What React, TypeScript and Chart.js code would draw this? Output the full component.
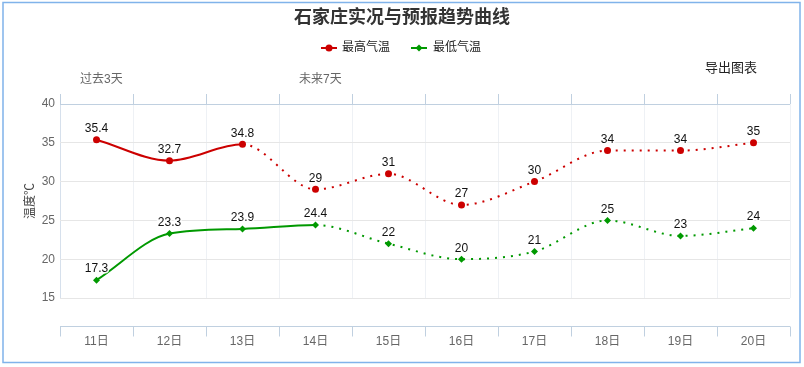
import React, { useEffect, useRef } from "react";
import { Chart, registerables } from "chart.js";

Chart.register(...registerables);

const days = ["11日", "12日", "13日", "14日", "15日", "16日", "17日", "18日", "19日", "20日"];
const highTemps = [35.4, 32.7, 34.8, 29, 31, 27, 30, 34, 34, 35];
const lowTemps = [17.3, 23.3, 23.9, 24.4, 22, 20, 21, 25, 23, 24];
const highObservedCount = 3; // solid up to index 2
const lowObservedCount = 4; // solid up to index 3
const yTicks = [15, 20, 25, 30, 35, 40];

const titleText = "石家庄实况与预报趋势曲线";
const highName = "最高气温";
const lowName = "最低气温";
const pastLabel = "过去3天";
const futureLabel = "未来7天";
const exportLabel = "导出图表";
const yTitle = "温度℃";

const FONT = "'Liberation Sans', 'Noto Sans CJK SC', sans-serif";
const RED = "#cc0000";
const GREEN = "#009900";
const AXIS_BLUE = "#c0d0e0";

const decorPlugin = {
  id: "decor",
  beforeDraw(chart: any) {
    const ctx = chart.ctx;
    ctx.save();
    ctx.fillStyle = "#ffffff";
    ctx.fillRect(0, 0, chart.width, chart.height);
    ctx.restore();
  },
  afterDraw(chart: any) {
    const ctx = chart.ctx;
    const area = chart.chartArea;
    const n = days.length;
    const w = (area.right - area.left) / n;
    ctx.save();
    // outer border
    ctx.strokeStyle = "#80b3ea";
    ctx.lineWidth = 1.5;
    ctx.strokeRect(3, 2.5, 797, 360);

    // top axis ticks
    ctx.strokeStyle = AXIS_BLUE;
    ctx.lineWidth = 1;
    for (let i = 0; i <= n; i++) {
      const px = Math.round(area.left + i * w) + 0.5;
      ctx.beginPath();
      ctx.moveTo(px, area.top - 10);
      ctx.lineTo(px, area.top);
      ctx.stroke();
    }
    // bottom axis line + ticks
    const by = area.bottom + 28.5;
    ctx.beginPath();
    ctx.moveTo(area.left, by);
    ctx.lineTo(area.right, by);
    ctx.stroke();
    for (let i = 0; i <= n; i++) {
      const px = Math.round(area.left + i * w) + 0.5;
      ctx.beginPath();
      ctx.moveTo(px, by);
      ctx.lineTo(px, by + 10);
      ctx.stroke();
    }

    // title
    ctx.fillStyle = "#333333";
    ctx.font = `bold 18px ${FONT}`;
    ctx.textAlign = "center";
    ctx.textBaseline = "middle";
    ctx.fillText(titleText, 402, 18);

    // legend
    ctx.font = `12px ${FONT}`;
    ctx.textAlign = "left";
    const ly = 48;
    ctx.lineWidth = 2;
    ctx.strokeStyle = RED;
    ctx.beginPath();
    ctx.moveTo(321, ly);
    ctx.lineTo(337, ly);
    ctx.stroke();
    ctx.fillStyle = RED;
    ctx.beginPath();
    ctx.arc(329, ly, 3.5, 0, Math.PI * 2);
    ctx.fill();
    ctx.fillStyle = "#222222";
    ctx.fillText(highName, 342, ly);

    ctx.strokeStyle = GREEN;
    ctx.beginPath();
    ctx.moveTo(411, ly);
    ctx.lineTo(427, ly);
    ctx.stroke();
    ctx.fillStyle = GREEN;
    ctx.beginPath();
    ctx.moveTo(419, ly - 3.5);
    ctx.lineTo(422.5, ly);
    ctx.lineTo(419, ly + 3.5);
    ctx.lineTo(415.5, ly);
    ctx.closePath();
    ctx.fill();
    ctx.fillStyle = "#222222";
    ctx.fillText(lowName, 433, ly);

    // export button text
    ctx.font = `13px ${FONT}`;
    ctx.fillStyle = "#222222";
    ctx.fillText(exportLabel, 705, 68);

    // period labels
    ctx.font = `12px ${FONT}`;
    ctx.fillStyle = "#666666";
    ctx.fillText(pastLabel, 80, 80);
    ctx.fillText(futureLabel, 299, 80);

    // data labels
    ctx.font = `12px ${FONT}`;
    ctx.fillStyle = "#111111";
    ctx.textAlign = "center";
    ctx.textBaseline = "middle";
    chart.data.datasets.forEach((ds: any, di: number) => {
      const meta = chart.getDatasetMeta(di);
      meta.data.forEach((pt: any, i: number) => {
        const v = ds.data[i];
        ctx.lineWidth = 3;
        ctx.strokeStyle = "rgba(255,255,255,0.9)";
        ctx.strokeText(String(v), pt.x, pt.y - 11);
        ctx.fillText(String(v), pt.x, pt.y - 11);
      });
    });
    ctx.restore();
  },
};

export default function App() {
  const ref = useRef<HTMLCanvasElement | null>(null);

  useEffect(() => {
    if (!ref.current) return;
    const chart = new Chart(ref.current, {
      type: "line",
      data: {
        labels: days,
        datasets: [
          {
            label: highName,
            data: highTemps,
            borderColor: RED,
            backgroundColor: RED,
            borderWidth: 2,
            pointRadius: 3.5,
            pointStyle: "circle",
            pointBorderWidth: 0,
            cubicInterpolationMode: "monotone",
            segment: {
              borderDash: (c: any) => (c.p0DataIndex >= highObservedCount - 1 ? [2, 6] : undefined),
            },
          },
          {
            label: lowName,
            data: lowTemps,
            borderColor: GREEN,
            backgroundColor: GREEN,
            borderWidth: 2,
            pointRadius: 3.5,
            pointStyle: "rectRot",
            pointBorderWidth: 0,
            cubicInterpolationMode: "monotone",
            segment: {
              borderDash: (c: any) => (c.p0DataIndex >= lowObservedCount - 1 ? [2, 6] : undefined),
            },
          },
        ],
      },
      options: {
        responsive: false,
        animation: false,
        devicePixelRatio: 1,
        layout: { padding: { top: 104, right: 14, bottom: 0, left: 0 } },
        plugins: {
          legend: { display: false },
          title: { display: false },
          tooltip: { enabled: false },
        },
        scales: {
          x: {
            type: "category",
            offset: true,
            grid: {
              offset: true,
              drawTicks: false,
              color: (c: any) => (c.index === 0 ? "#d6e0ec" : "#eef1f5"),
              lineWidth: 1,
            },
            border: { display: false },
            ticks: {
              color: "#666666",
              font: { family: FONT, size: 12 },
              padding: 36,
              maxRotation: 0,
            },
            afterFit: (s: any) => {
              s.height = 69;
            },
          },
          y: {
            min: 15,
            max: 40,
            afterBuildTicks: (s: any) => {
              s.ticks = yTicks.map((v) => ({ value: v }));
            },
            grid: {
              drawTicks: false,
              color: (c: any) => (c.tick && c.tick.value === 40 ? AXIS_BLUE : "#e6e6e6"),
            },
            border: { display: false },
            ticks: {
              color: "#666666",
              font: { family: FONT, size: 12 },
              padding: 5,
            },
            title: {
              display: true,
              text: yTitle,
              color: "#444444",
              font: { family: FONT, size: 12 },
              padding: { top: 23, bottom: 23 },
            },
            afterFit: (s: any) => {
              s.width = 60;
            },
          },
        },
      },
      plugins: [decorPlugin],
    });
    return () => chart.destroy();
  }, []);

  return (
    <div style={{ position: "fixed", left: 0, top: 0, width: 804, height: 367, background: "#fff" }}>
      <canvas ref={ref} width={804} height={367} style={{ width: 804, height: 367, display: "block" }} />
    </div>
  );
}
